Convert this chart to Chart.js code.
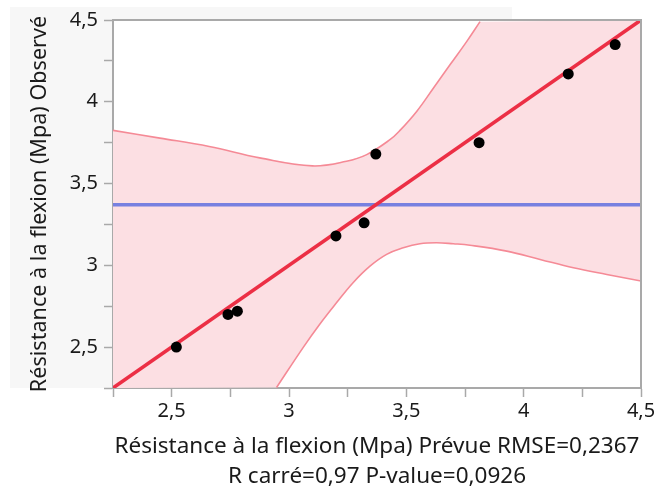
<!DOCTYPE html>
<html lang="fr">
<head>
<meta charset="UTF-8">
<title>Résistance à la flexion - Observé par Prévue</title>
<script src="https://cdn.jsdelivr.net/npm/chart.js"></script>
<style>
  html, body { margin: 0; padding: 0; background: #fff; }
  #wrap { width: 654px; height: 488px; }
</style>
</head>
<body>
<div id="wrap"><canvas id="fitChart" width="654" height="488"></canvas></div>
<script>
// observed vs predicted values
const predicted = [2.52, 2.74, 2.78, 3.20, 3.32, 3.37, 3.81, 4.19, 4.39];
const observed  = [2.50, 2.70, 2.72, 3.18, 3.26, 3.68, 3.75, 4.17, 4.35];
const meanObserved = 3.37;

// fit line (observed = predicted)
const fitX = [2.25, 4.5];
const fitY = [2.25, 4.5];

// confidence curves
const upperX = [2.25, 2.45, 2.66, 2.875, 3.10, 3.245, 3.331, 3.43, 3.473, 3.544, 3.615, 3.686, 3.757, 3.814];
const upperY = [3.825, 3.778, 3.727, 3.657, 3.608, 3.636, 3.677, 3.768, 3.825, 3.941, 4.083, 4.226, 4.368, 4.49];
const lowerX = [2.947, 3.06, 3.131, 3.203, 3.273, 3.345, 3.416, 3.487, 3.558, 3.629, 3.70, 3.771, 3.928, 4.07, 4.212, 4.354, 4.5];
const lowerY = [2.253, 2.497, 2.640, 2.772, 2.894, 2.995, 3.067, 3.107, 3.132, 3.138, 3.132, 3.123, 3.087, 3.036, 2.985, 2.944, 2.904];

// axis range and ticks
const axisMin = 2.25;
const axisMax = 4.5;
const tickValues = [2.25, 2.5, 2.75, 3, 3.25, 3.5, 3.75, 4, 4.25, 4.5];
const tickLabels = ['', '2,5', '', '3', '', '3,5', '', '4', '', '4,5'];

const xTitle = ['Résistance à la flexion (Mpa) Prévue RMSE=0,2367', 'R carré=0,97 P-value=0,0926'];
const yTitle = 'Résistance à la flexion (Mpa) Observé';

const toPts = (xs, ys) => xs.map((x, i) => ({x: x, y: ys[i]}));

// band outline: upper curve, top-right corner, lower curve back, bottom-left corner
const bandPts = toPts(upperX, upperY)
    .concat([{x: axisMax, y: axisMax}])
    .concat(toPts(lowerX, lowerY).reverse())
    .concat([{x: axisMin, y: axisMin}]);

const axisGray = '#a9a9a9';

// grey panel behind the axis labels, white plot area, frame around it
const panelPlugin = {
    id: 'panel',
    beforeDraw(chart) {
        const ctx = chart.ctx, a = chart.chartArea;
        ctx.save();
        ctx.fillStyle = '#f7f7f7';
        ctx.fillRect(10, 7, 502, a.bottom - 7);
        ctx.fillStyle = '#ffffff';
        ctx.fillRect(a.left, a.top, a.right - a.left, a.bottom - a.top);
        ctx.restore();
    },
    afterDraw(chart) {
        const ctx = chart.ctx, a = chart.chartArea;
        ctx.save();
        ctx.strokeStyle = axisGray;
        ctx.lineWidth = 2;
        ctx.beginPath();
        ctx.moveTo(a.left, a.top);
        ctx.lineTo(a.right, a.top);
        ctx.lineTo(a.right, a.bottom);
        ctx.stroke();
        ctx.restore();
    }
};

Chart.defaults.font.family = '"Noto Sans", sans-serif';
Chart.defaults.color = '#1a1a1a';

function axisOptions(pos) {
    return {
        type: 'linear',
        position: pos,
        min: axisMin,
        max: axisMax,
        afterBuildTicks: s => { s.ticks = tickValues.map(v => ({value: v})); },
        grid: { drawOnChartArea: false, tickLength: 9, tickColor: axisGray, tickWidth: 1.5 },
        border: { color: axisGray, width: 2 },
        ticks: {
            autoSkip: false,
            maxRotation: 0,
            font: { size: 20 },
            callback: (v, i) => tickLabels[i]
        }
    };
}

const xAxis = axisOptions('bottom');
xAxis.ticks.padding = 2;
xAxis.title = { display: true, text: xTitle, font: { size: 22.5, lineHeight: 1.35 }, padding: { top: 0, bottom: -4 } };
xAxis.afterFit = s => { s.height = 100; s.paddingRight = 0; s.paddingLeft = 0; };

const yAxis = axisOptions('left');
yAxis.ticks.padding = 6;
yAxis.title = { display: true, text: yTitle, font: { size: 21.6 }, padding: { top: 17, bottom: 0 } };
yAxis.afterFit = s => { s.width = 103; };

new Chart(document.getElementById('fitChart'), {
    type: 'scatter',
    data: {
        datasets: [
            {
                label: 'Observations',
                data: toPts(predicted, observed),
                backgroundColor: '#000000',
                borderWidth: 0,
                pointRadius: 5.5
            },
            {
                label: 'Ajustement',
                data: toPts(fitX, fitY),
                showLine: true,
                borderColor: '#ec2f45',
                borderWidth: 3.5,
                pointRadius: 0
            },
            {
                label: 'Borne sup.',
                data: toPts(upperX, upperY),
                showLine: true,
                tension: 0.4,
                borderColor: '#f58a96',
                borderWidth: 1.6,
                pointRadius: 0
            },
            {
                label: 'Borne inf.',
                data: toPts(lowerX, lowerY),
                showLine: true,
                tension: 0.4,
                borderColor: '#f58a96',
                borderWidth: 1.6,
                pointRadius: 0
            },
            {
                label: 'Moyenne',
                data: toPts([axisMin, axisMax], [meanObserved, meanObserved]),
                showLine: true,
                borderColor: '#7780e0',
                borderWidth: 3.5,
                pointRadius: 0
            },
            {
                label: 'Bande',
                data: bandPts,
                showLine: true,
                fill: 'shape',
                tension: 0,
                backgroundColor: '#fcdfe3',
                borderWidth: 0,
                borderColor: 'rgba(0,0,0,0)',
                pointRadius: 0
            }
        ]
    },
    options: {
        responsive: false,
        animation: false,
        devicePixelRatio: 1,
        layout: { padding: { left: 10, top: 20, right: 13, bottom: 0 } },
        plugins: {
            legend: { display: false },
            tooltip: { enabled: false }
        },
        scales: { x: xAxis, y: yAxis }
    },
    plugins: [panelPlugin]
});
</script>
</body>
</html>
